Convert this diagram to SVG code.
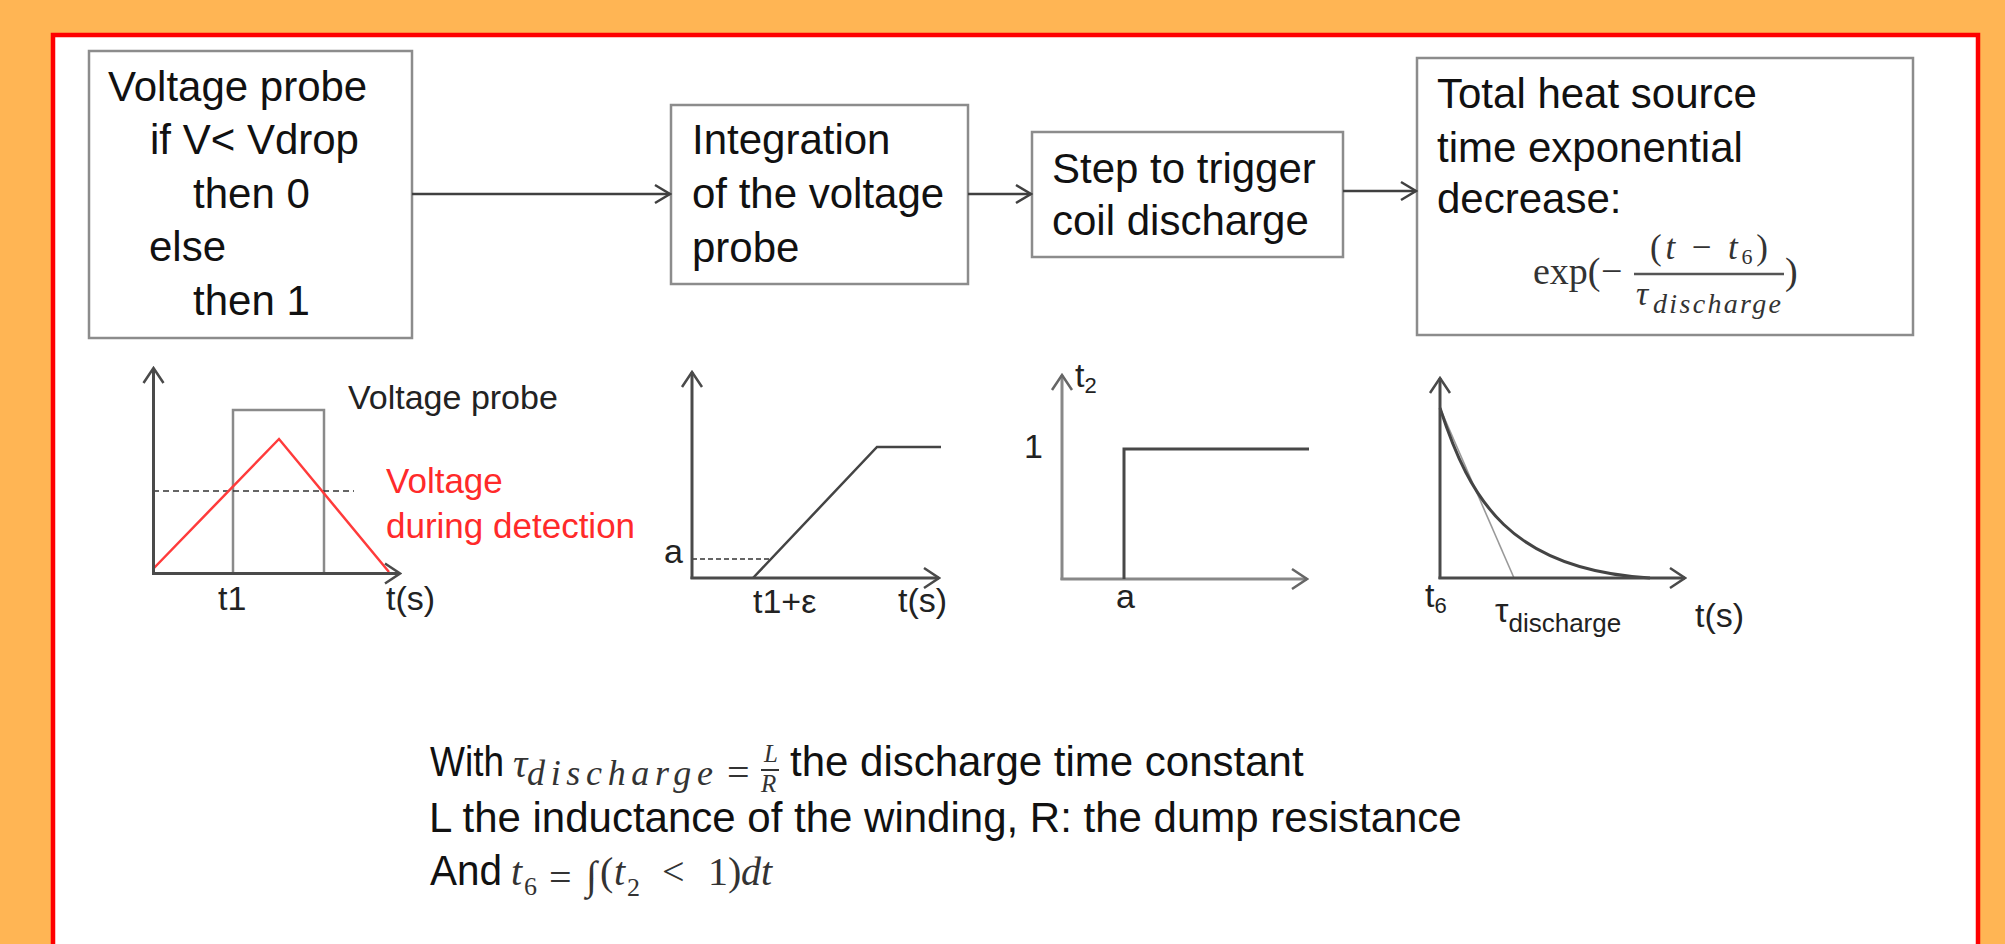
<svg xmlns="http://www.w3.org/2000/svg" width="2005" height="944" viewBox="0 0 2005 944">
<defs>
<style>
.box{fill:#fff;stroke:#8c8c8c;stroke-width:2.5}
.bt{font-family:"Liberation Sans",Arial,sans-serif;font-size:42px;fill:#111}
.lbl{font-family:"Liberation Sans",Arial,sans-serif;font-size:34px;fill:#222}
.red{font-family:"Liberation Sans",Arial,sans-serif;font-size:35px;fill:#ff2a2a}
.m{font-family:"Liberation Serif","Times New Roman",serif;fill:#333}
.mi{font-family:"Liberation Serif","Times New Roman",serif;font-style:italic;fill:#333}
.con{stroke:#404040;stroke-width:2.5;fill:none}
.ax{stroke:#4a4a4a;stroke-width:3;fill:none}
.axg{stroke:#888;stroke-width:3;fill:none}
.crv{stroke:#444;stroke-width:3;fill:none}
</style>
<marker id="arr" viewBox="-18 -12 20 24" markerWidth="20" markerHeight="24" refX="0" refY="0" orient="auto" markerUnits="userSpaceOnUse">
<path d="M-15,-9 L0,0 L-15,9" fill="none" stroke="#404040" stroke-width="2.5"/>
</marker>
<marker id="axa" viewBox="-18 -12 20 24" markerWidth="20" markerHeight="24" refX="0" refY="0" orient="auto" markerUnits="userSpaceOnUse">
<path d="M-15,-10 L0,0 L-15,10" fill="none" stroke="#4a4a4a" stroke-width="2.5"/>
</marker>
<marker id="axg" viewBox="-18 -12 20 24" markerWidth="20" markerHeight="24" refX="0" refY="0" orient="auto" markerUnits="userSpaceOnUse">
<path d="M-15,-10 L0,0 L-15,10" fill="none" stroke="#666" stroke-width="2.5"/>
</marker>
</defs>
<rect x="0" y="0" width="2005" height="944" fill="#ffb554"/>
<rect x="53" y="35" width="1925" height="1000" fill="#fff" stroke="#ff0000" stroke-width="4.5"/>

<g id="node-voltage-probe">
<rect class="box" x="89" y="51" width="323" height="287"/>
<text class="bt" x="108" y="101">Voltage probe</text>
<text class="bt" x="150" y="154">if V&lt; Vdrop</text>
<text class="bt" x="193" y="208">then 0</text>
<text class="bt" x="149" y="261">else</text>
<text class="bt" x="193" y="315">then 1</text>
</g>
<g id="node-integration">
<rect class="box" x="671" y="105" width="297" height="179"/>
<text class="bt" x="692" y="154">Integration</text>
<text class="bt" x="692" y="208">of the voltage</text>
<text class="bt" x="692" y="262">probe</text>
</g>
<g id="node-step">
<rect class="box" x="1032" y="132" width="311" height="125"/>
<text class="bt" x="1052" y="183">Step to trigger</text>
<text class="bt" x="1052" y="235">coil discharge</text>
</g>
<g id="node-heat-source">
<rect class="box" x="1417" y="58" width="496" height="277"/>
<text class="bt" x="1437" y="108" font-size="41">Total heat source</text>
<text class="bt" x="1437" y="162" font-size="41">time exponential</text>
<text class="bt" x="1437" y="213" font-size="41">decrease:</text>
<text class="m" x="1533" y="284" font-size="38">exp(</text>
<text class="m" x="1601" y="284" font-size="38">−</text>
<line x1="1634" y1="274" x2="1784" y2="274" stroke="#555" stroke-width="2.5"/>
<text class="m" x="1650" y="259" font-size="35" textLength="118" lengthAdjust="spacing">(<tspan class="mi">t</tspan> − <tspan class="mi">t</tspan><tspan font-size="22" dy="5">6</tspan><tspan dy="-5">)</tspan></text>
<text class="mi" x="1636" y="305" font-size="34">τ</text>
<text class="mi" x="1653" y="313" font-size="28" textLength="128" lengthAdjust="spacing">discharge</text>
<text class="m" x="1785" y="284" font-size="38">)</text>
</g>

<g id="connectors">
<line class="con" x1="412" y1="194" x2="670" y2="194" marker-end="url(#arr)"/>
<line class="con" x1="968" y1="194" x2="1031" y2="194" marker-end="url(#arr)"/>
<line class="con" x1="1343" y1="191" x2="1416" y2="191" marker-end="url(#arr)"/>
</g>

<g id="graph-voltage">
<polyline points="233,573 233,410 324,410 324,573" fill="none" stroke="#8a8a8a" stroke-width="2.5"/>
<line x1="153" y1="491" x2="354" y2="491" stroke="#333" stroke-width="1.6" stroke-dasharray="6,4"/>
<polyline points="154,568 279,439 389,572" fill="none" stroke="#ff3b3b" stroke-width="2.5"/>
<line class="ax" x1="153.5" y1="574" x2="153.5" y2="368" marker-end="url(#axa)"/>
<line class="ax" x1="152" y1="573.5" x2="400" y2="573.5" marker-end="url(#axa)"/>
<text class="lbl" x="348" y="409">Voltage probe</text>
<text class="red" x="386" y="493">Voltage</text>
<text class="red" x="386" y="538">during detection</text>
<text class="lbl" x="218" y="610">t1</text>
<text class="lbl" x="386" y="610">t(s)</text>
</g>

<g id="graph-integration">
<line x1="692" y1="559" x2="770" y2="559" stroke="#333" stroke-width="1.6" stroke-dasharray="5,3"/>
<polyline points="753,578 877,447 941,447" fill="none" stroke="#444" stroke-width="2.5"/>
<line class="ax" x1="692" y1="579" x2="692" y2="372" marker-end="url(#axa)"/>
<line class="ax" x1="690.5" y1="578" x2="939" y2="578" marker-end="url(#axa)"/>
<text class="lbl" x="664" y="563">a</text>
<text class="lbl" x="753" y="613">t1+ε</text>
<text class="lbl" x="898" y="612">t(s)</text>
</g>

<g id="graph-step">
<line class="axg" x1="1062" y1="580" x2="1062" y2="375" marker-end="url(#axg)"/>
<line class="axg" x1="1060.5" y1="579" x2="1307" y2="579" marker-end="url(#axg)"/>
<polyline points="1124,579 1124,449 1309,449" fill="none" stroke="#484848" stroke-width="3"/>
<text class="lbl" x="1024" y="458">1</text>
<text class="lbl" x="1075" y="387">t<tspan font-size="22" dy="6">2</tspan></text>
<text class="lbl" x="1116" y="608">a</text>
</g>

<g id="graph-discharge">
<line x1="1440" y1="408" x2="1514" y2="578" stroke="#999" stroke-width="1.6"/>
<path class="crv" d="M1440,408 C1470,500 1510,570 1650,578"/>
<line class="ax" x1="1440" y1="579" x2="1440" y2="378" marker-end="url(#axa)"/>
<line class="ax" x1="1438.5" y1="578" x2="1685" y2="578" marker-end="url(#axa)"/>
<text class="lbl" x="1425" y="607">t<tspan font-size="22" dy="6">6</tspan></text>
<text class="lbl" x="1495" y="622" font-size="36">τ<tspan font-size="26" dy="10">discharge</tspan></text>
<text class="lbl" x="1695" y="627">t(s)</text>
</g>

<g id="notes">
<text class="bt" x="430" y="776" font-size="44" textLength="74" lengthAdjust="spacingAndGlyphs">With</text>
<text class="mi" x="513" y="777" font-size="40">τ</text>
<text class="mi" x="527" y="785" font-size="36" textLength="186" lengthAdjust="spacing">discharge</text>
<text class="m" x="727" y="786" font-size="40">=</text>
<text class="mi" x="764" y="762" font-size="25">L</text>
<line x1="761" y1="770" x2="779" y2="770" stroke="#333" stroke-width="2"/>
<text class="mi" x="761" y="792" font-size="25">R</text>
<text class="bt" x="790" y="776" font-size="44.5">the discharge time constant</text>
<text class="bt" x="429" y="832" font-size="42.5">L the inductance of the winding, R: the dump resistance</text>
<text class="bt" x="430" y="885" font-size="44" textLength="72" lengthAdjust="spacingAndGlyphs">And</text>
<text class="mi" x="511" y="885" font-size="40">t</text>
<text class="m" x="524" y="895" font-size="26">6</text>
<text class="m" x="549" y="891" font-size="40">=</text>
<text class="mi" x="586" y="889" font-size="40">∫</text>
<text class="m" x="600" y="885" font-size="40">(</text>
<text class="mi" x="614" y="885" font-size="40">t</text>
<text class="m" x="627" y="896" font-size="26">2</text>
<text class="m" x="662" y="885" font-size="40">&lt;</text>
<text class="m" x="708" y="885" font-size="40">1)</text>
<text class="mi" x="741" y="885" font-size="40">dt</text>
</g>
</svg>
